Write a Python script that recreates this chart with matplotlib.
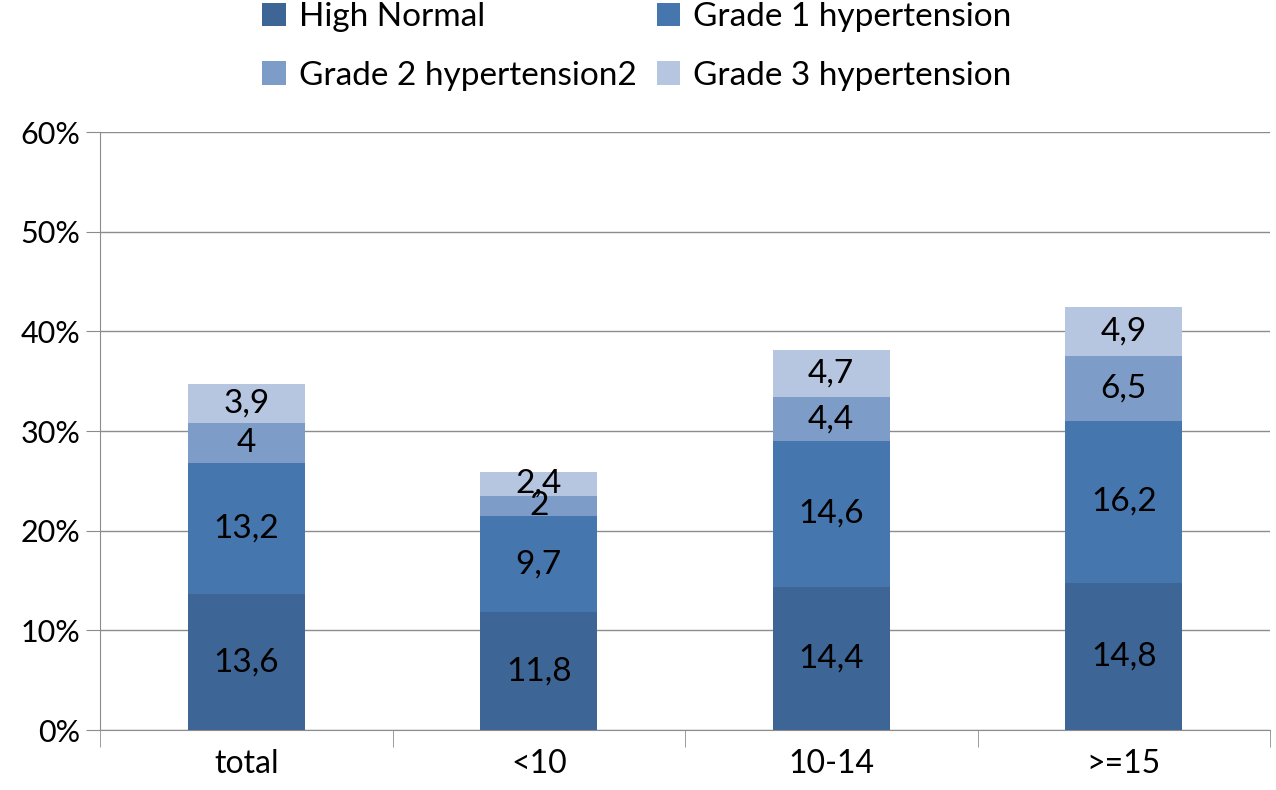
import numpy as np
import matplotlib
matplotlib.use('Agg')
import matplotlib.pyplot as plt

plt.rcParams['font.family'] = ['Lato', 'DejaVu Sans']

groups = ["total", "<10", "10-14", ">=15"]
series = ["High Normal", "Grade 1 hypertension", "Grade 2 hypertension2", "Grade 3 hypertension"]
high_normal = [13.6, 11.8, 14.4, 14.8]
grade1 = [13.2, 9.7, 14.6, 16.2]
grade2 = [4, 2, 4.4, 6.5]
grade3 = [3.9, 2.4, 4.7, 4.9]
colors = ["#3d6595", "#4676ae", "#7e9cc8", "#b6c5e0"]

fig = plt.figure(figsize=(12.76, 7.9), dpi=100)
ax = fig.add_axes([0.0784, 0.0759, 0.9169, 0.757])

x = np.arange(len(groups))
bottom = np.zeros(len(groups))
handles = []
for name, vals, c in zip(series, [high_normal, grade1, grade2, grade3], colors):
    vals = np.array(vals)
    h = ax.bar(x, vals, 0.4, bottom=bottom, color=c, label=name, zorder=3)
    handles.append(h)
    for xi, b, v in zip(x, bottom, vals):
        lbl = ("%g" % v).replace(".", ",")
        ax.text(xi, b + v / 2, lbl, ha="center", va="center", fontsize=24, zorder=4)
    bottom += vals

ax.set_xlim(-0.5, len(groups) - 0.5)
ax.set_ylim(0, 60)
ax.set_yticks(range(0, 61, 10))
ax.set_yticklabels(["%d%%" % v for v in range(0, 61, 10)], fontsize=22)
ax.yaxis.grid(True, color="#8c8c8c", lw=1, zorder=0)
ax.set_xticks(x)
ax.set_xticklabels(groups, fontsize=23)
ax.set_xticks(np.arange(-0.5, len(groups)), minor=True)
ax.tick_params(axis="x", which="major", length=0, pad=14)
ax.tick_params(axis="x", which="minor", length=12, color="#8c8c8c")
ax.tick_params(axis="y", length=10, color="#8c8c8c", pad=4)
for s in ["top", "right"]:
    ax.spines[s].set_visible(False)
for s in ["left", "bottom"]:
    ax.spines[s].set_color("#8c8c8c")

# legend filled row by row: matplotlib fills columns, so reorder
order = [0, 2, 1, 3]
fig.legend([handles[i] for i in order], [series[i] for i in order],
           loc="upper left", bbox_to_anchor=(0.182, 1.035), ncol=2, frameon=False,
           fontsize=24, handlelength=0.7, handleheight=0.7, handletextpad=0.4,
           columnspacing=0.6, labelspacing=0.85)

fig.savefig("out.png", dpi=100)
